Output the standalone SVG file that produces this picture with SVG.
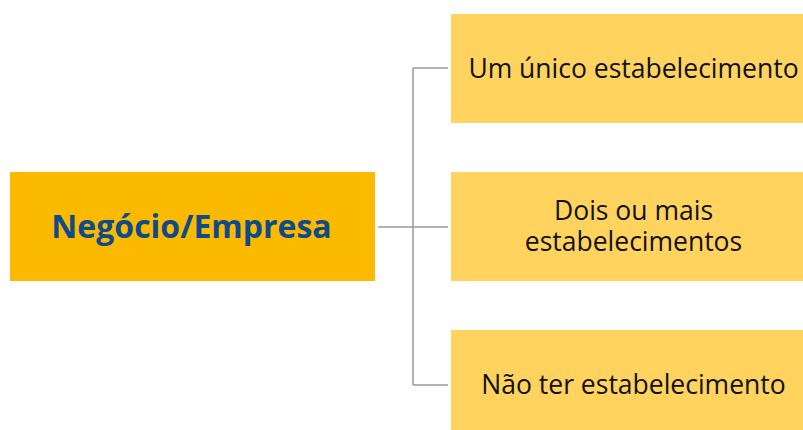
<svg xmlns="http://www.w3.org/2000/svg" width="803" height="430" viewBox="0 0 803 430">
<style>
.main{fill:#FBBA00}
.sub{fill:#FFD35E}
.mt{font-family:"Open Sans",sans-serif;font-weight:bold;font-size:32px;fill:#0F4A8A;text-anchor:middle}
.st{font-family:"Open Sans",sans-serif;font-size:26.5px;fill:#111;text-anchor:middle}
.ln{stroke:#999;stroke-width:1.5;fill:none}
</style>
<rect width="803" height="430" fill="#fff"/>
<g id="connectors">
<path class="ln" d="M378 227H448M413 68V385M413 68H448M413 385H448"/>
</g>
<g id="main">
<rect class="main" x="10" y="172" width="365" height="109"/>
<text class="mt" x="191.5" y="238">Negócio/Empresa</text>
</g>
<g id="n1">
<rect class="sub" x="451" y="14" width="360" height="109"/>
<text class="st" x="633.5" y="78">Um único estabelecimento</text>
</g>
<g id="n2">
<rect class="sub" x="451" y="172" width="360" height="109"/>
<text class="st"><tspan x="633.5" y="220">Dois ou mais</tspan><tspan x="633.5" y="251">estabelecimentos</tspan></text>
</g>
<g id="n3">
<rect class="sub" x="451" y="330" width="360" height="100"/>
<text class="st" x="633.5" y="394">Não ter estabelecimento</text>
</g>
</svg>
